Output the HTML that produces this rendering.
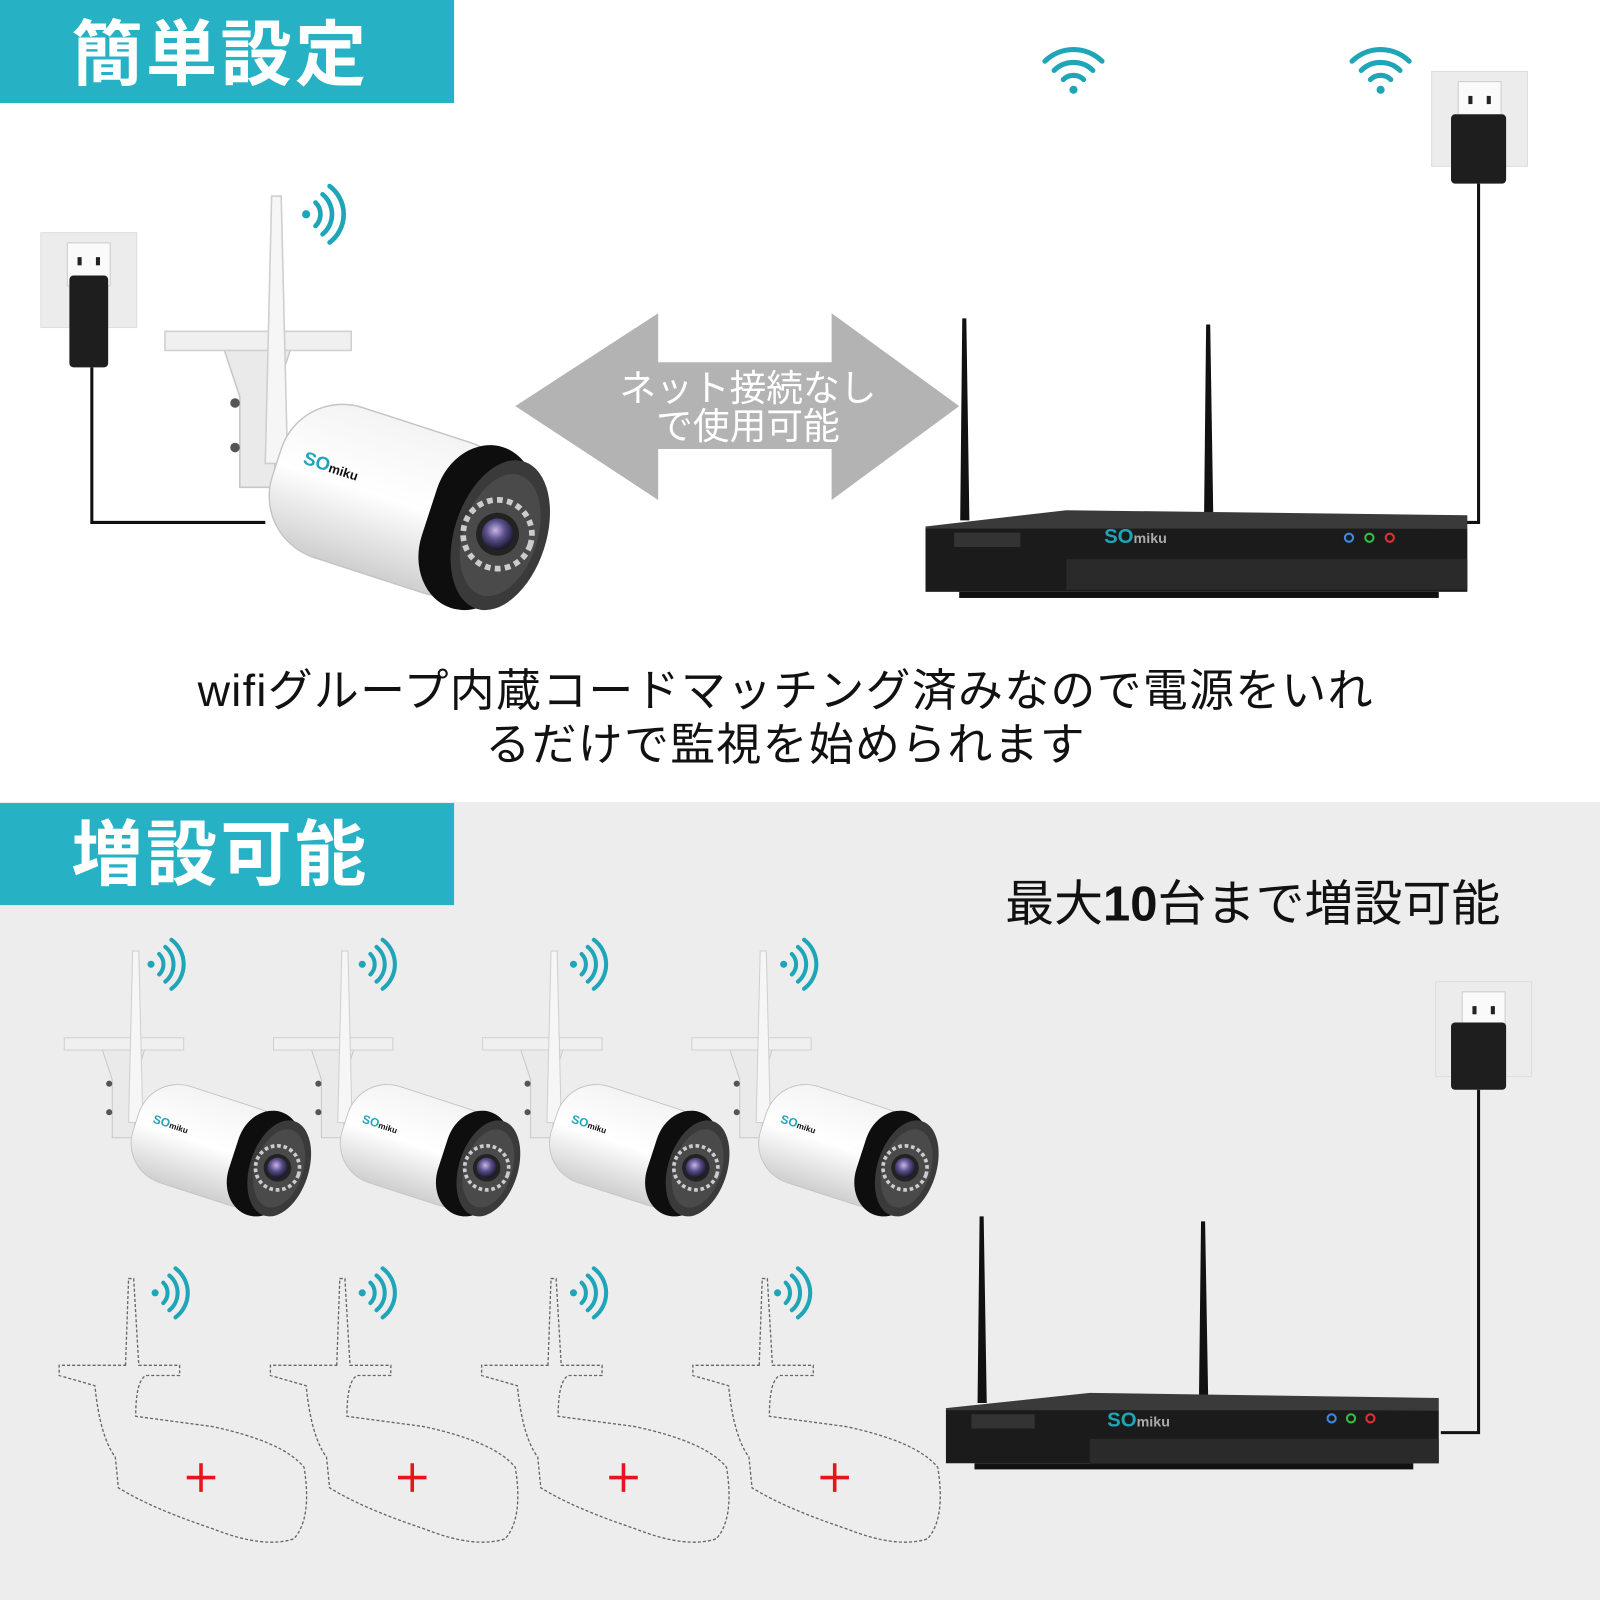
<!DOCTYPE html>
<html><head><meta charset="utf-8"><style>
html,body{margin:0;padding:0;background:#fff}
svg{display:block}
text{font-family:"Liberation Sans","Noto Sans CJK JP",sans-serif}
</style></head><body>
<svg width="1600" height="1600" viewBox="0 0 1568 1568" xmlns="http://www.w3.org/2000/svg">
<defs>
<radialGradient id="lens" cx="0.4" cy="0.4" r="0.6"><stop offset="0" stop-color="#c9b6e8"/><stop offset="0.5" stop-color="#5a4f8a"/><stop offset="1" stop-color="#1c1a30"/></radialGradient>
<linearGradient id="body" x1="0" y1="0" x2="0" y2="1"><stop offset="0" stop-color="#f4f4f4"/><stop offset="0.5" stop-color="#ffffff"/><stop offset="1" stop-color="#cfcfcf"/></linearGradient>
<g id="cam">
  <path d="M40,98 L82,98 L72,128 L72,185 L50,185 L50,128 Z" fill="#eaeaea" stroke="#c8c8c8"/>
  <rect x="3" y="87" width="117" height="12" fill="#f0f0f0" stroke="#d0d0d0"/>
  <circle cx="47" cy="132" r="3" fill="#555"/><circle cx="47" cy="160" r="3" fill="#555"/>
  <path d="M70,2 L76,2 L80,170 L66,170 Z" fill="#f6f6f6" stroke="#cfcfcf"/>
  <g transform="translate(152,195) rotate(18) scale(0.9)">
    <rect x="-92" y="-55" width="170" height="110" rx="45" fill="url(#body)" stroke="#c4c4c4"/>
    <rect x="20" y="-59" width="70" height="118" rx="42" fill="#0e0e0e"/>
    <ellipse cx="72" cy="0" rx="32" ry="54" fill="#3a3a3a"/>
    <ellipse cx="72" cy="0" rx="26" ry="44" fill="#4a4a4a"/>
    <circle cx="70" cy="0" r="24" fill="none" stroke="#ccc" stroke-width="4" stroke-dasharray="4 3"/>
    <circle cx="70" cy="0" r="15" fill="#222"/>
    <circle cx="70" cy="0" r="11" fill="url(#lens)"/>
    <text x="-75" y="-5" font-size="13" font-weight="bold" fill="#1fa5b8">SO<tspan fill="#111" font-size="9">miku</tspan></text>
  </g>
</g>
<g id="sig" fill="none" stroke="#1fa5b8" stroke-width="4" stroke-linecap="round">
  <circle cx="0" cy="0" r="3.5" fill="#1fa5b8" stroke="none"/>
  <path d="M8,-10 A14,14 0 0 1 8,10"/>
  <path d="M14,-17 A22,22 0 0 1 14,17"/>
  <path d="M20,-24 A30,30 0 0 1 20,24"/>
</g>
<g id="fan" fill="none" stroke="#1fa5b8" stroke-width="5" stroke-linecap="round">
  <circle cx="0" cy="18" r="4" fill="#1fa5b8" stroke="none"/>
  <path d="M-10,8 A14,14 0 0 1 10,8"/>
  <path d="M-19,-1 A27,27 0 0 1 19,-1"/>
  <path d="M-28,-10 A40,40 0 0 1 28,-10"/>
</g>
<g id="ghost" fill="none" stroke="#666" stroke-width="1.3" stroke-dasharray="3 2">
  <path d="M65,90 L68,5 L73,5 L78,90 L118,90 L118,100 L85,100 Q75,105 75,140 L150,150 Q220,165 240,190 Q248,240 230,260 Q200,270 150,250 Q90,230 58,210 L55,180 Q40,160 35,110 L0,100 L0,90 Z"/>
</g>
<g id="plus" stroke="#e8141b" stroke-width="3.5"><path d="M-14,0 H14 M0,-14 V14"/></g>
<g id="outlet">
  <rect x="0" y="0" width="94" height="93" fill="#ececec" stroke="#ddd"/>
  <rect x="26" y="10" width="42" height="42" fill="#fafafa" stroke="#ccc"/>
  <rect x="36" y="24" width="4" height="8" fill="#222"/><rect x="54" y="24" width="4" height="8" fill="#222"/>
</g>
</defs>

<rect x="0" y="0" width="1568" height="786" fill="#ffffff"/>
<rect x="0" y="786" width="1568" height="782" fill="#ededed"/>

<rect x="0" y="0" width="445" height="101" fill="#26b1c4"/>
<text x="70" y="78" font-size="70" font-weight="bold" fill="#fff" letter-spacing="3">簡単設定</text>
<rect x="0" y="787" width="445" height="100" fill="#26b1c4"/>
<text x="70" y="862" font-size="70" font-weight="bold" fill="#fff" letter-spacing="3">増設可能</text>

<polygon points="505,398 645,307 645,355 815,355 815,307 940,398 815,490 815,440 645,440 645,490" fill="#b3b3b3"/>
<text x="733" y="393" font-size="36" fill="#fff" text-anchor="middle">ネット接続なし</text>
<text x="733" y="430" font-size="36" fill="#fff" text-anchor="middle">で使用可能</text>

<text x="770" y="692" font-size="44" fill="#111" text-anchor="middle" letter-spacing="1.3">wifiグループ内蔵コードマッチング済みなので電源をいれ</text>
<text x="770" y="745" font-size="44" fill="#111" text-anchor="middle" letter-spacing="1.3">るだけで監視を始められます</text>

<text x="985" y="902" font-size="48" fill="#111">最大<tspan font-weight="bold">10</tspan>台まで増設可能</text>

<use href="#outlet" transform="translate(40,228)"/>
<path d="M90,360 L90,512 L260,512" fill="none" stroke="#111" stroke-width="3"/>
<rect x="68" y="270" width="38" height="90" rx="4" fill="#1e1e1e"/>
<use href="#cam" transform="translate(157,189) scale(1.56)"/>
<use href="#sig" transform="translate(300,210) scale(1.15)"/>

<use href="#fan" transform="translate(1052,70)"/>
<use href="#fan" transform="translate(1353,70)"/>
<use href="#outlet" transform="translate(1403,70)"/>
<path d="M1449,180 L1449,512 L1432,512" fill="none" stroke="#111" stroke-width="3"/>
<rect x="1422" y="112" width="54" height="68" rx="4" fill="#1e1e1e"/>
<path d="M941,510 L943,312 L947,312 L950,510 Z" fill="#111"/>
<path d="M1180,505 L1182,318 L1186,318 L1189,505 Z" fill="#111"/>
<polygon points="907,516 1045,500 1438,505 1438,518 907,520" fill="#3a3a3a"/>
<rect x="907" y="518" width="531" height="62" fill="#1b1b1b"/>
<rect x="1045" y="548" width="393" height="30" fill="#2a2a2a"/>
<rect x="935" y="522" width="65" height="14" fill="#333"/>
<text x="1082" y="532" font-size="20" font-weight="bold" fill="#1fa5b8">SO<tspan fill="#aaa" font-size="14">miku</tspan></text>
<circle cx="1322" cy="527" r="4" fill="none" stroke="#3a8adf" stroke-width="2"/>
<circle cx="1342" cy="527" r="4" fill="none" stroke="#30c040" stroke-width="2"/>
<circle cx="1362" cy="527" r="4" fill="none" stroke="#e03030" stroke-width="2"/>
<rect x="940" y="580" width="470" height="6" fill="#111"/>

<use href="#cam" transform="translate(60,930)"/>
<use href="#cam" transform="translate(265,930)"/>
<use href="#cam" transform="translate(470,930)"/>
<use href="#cam" transform="translate(675,930)"/>
<use href="#sig" transform="translate(148,945)"/>
<use href="#sig" transform="translate(355,945)"/>
<use href="#sig" transform="translate(562,945)"/>
<use href="#sig" transform="translate(768,945)"/>

<use href="#ghost" transform="translate(58,1248)"/>
<use href="#ghost" transform="translate(265,1248)"/>
<use href="#ghost" transform="translate(472,1248)"/>
<use href="#ghost" transform="translate(679,1248)"/>
<use href="#sig" transform="translate(152,1267)"/>
<use href="#sig" transform="translate(355,1267)"/>
<use href="#sig" transform="translate(562,1267)"/>
<use href="#sig" transform="translate(762,1267)"/>
<use href="#plus" transform="translate(197,1448)"/>
<use href="#plus" transform="translate(404,1448)"/>
<use href="#plus" transform="translate(611,1448)"/>
<use href="#plus" transform="translate(818,1448)"/>

<use href="#outlet" transform="translate(1407,962)"/>
<path d="M1449,1068 L1449,1404 L1412,1404" fill="none" stroke="#111" stroke-width="3"/>
<rect x="1422" y="1002" width="54" height="66" rx="4" fill="#1e1e1e"/>
<path d="M958,1375 L960,1192 L964,1192 L967,1375 Z" fill="#111"/>
<path d="M1175,1370 L1177,1197 L1181,1197 L1184,1370 Z" fill="#111"/>
<polygon points="927,1380 1068,1365 1410,1370 1410,1382 927,1384" fill="#3a3a3a"/>
<rect x="927" y="1382" width="483" height="52" fill="#1b1b1b"/>
<rect x="1068" y="1410" width="342" height="24" fill="#2a2a2a"/>
<rect x="952" y="1386" width="62" height="14" fill="#333"/>
<text x="1085" y="1398" font-size="20" font-weight="bold" fill="#1fa5b8">SO<tspan fill="#aaa" font-size="14">miku</tspan></text>
<circle cx="1305" cy="1390" r="4" fill="none" stroke="#3a8adf" stroke-width="2"/>
<circle cx="1324" cy="1390" r="4" fill="none" stroke="#30c040" stroke-width="2"/>
<circle cx="1343" cy="1390" r="4" fill="none" stroke="#e03030" stroke-width="2"/>
<rect x="955" y="1434" width="430" height="6" fill="#111"/>
</svg>
</body></html>
